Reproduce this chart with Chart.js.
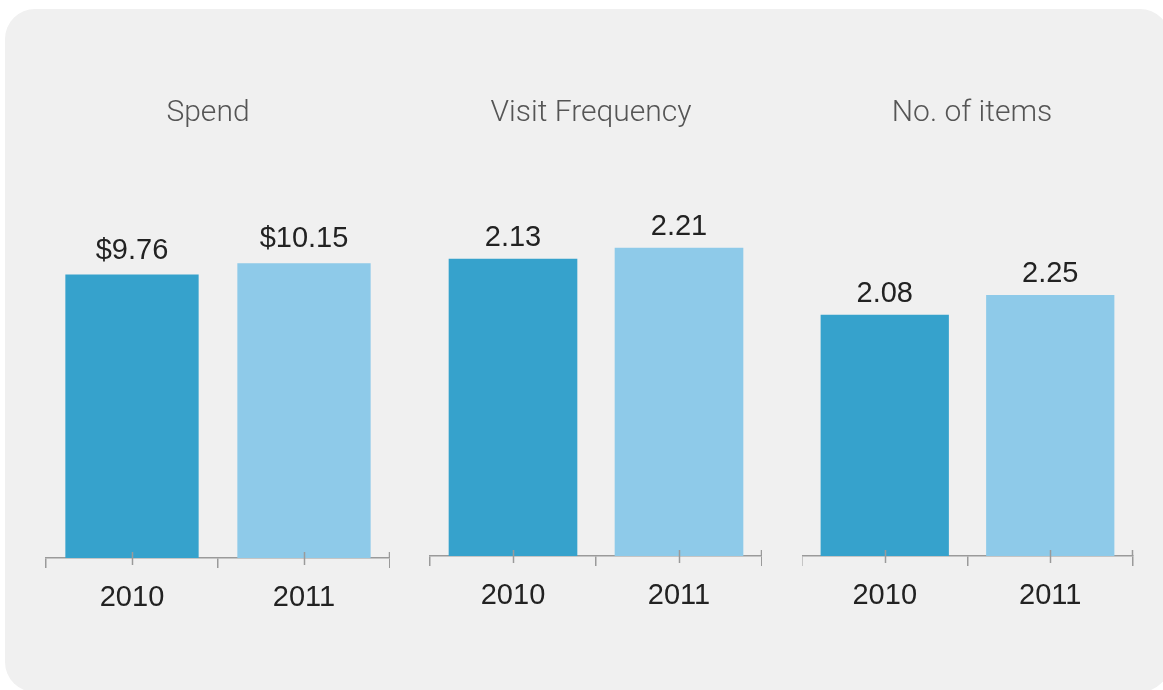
<!DOCTYPE html>
<html>
<head>
<meta charset="utf-8">
<script src="https://cdn.jsdelivr.net/npm/chart.js@4/dist/chart.umd.min.js"></script>
<style>
  html, body { margin: 0; padding: 0; background: #ffffff; }
  body { width: 1163px; height: 690px; position: relative; overflow: hidden; }
  .card { position: absolute; left: 5px; top: 9px; width: 1165px; height: 683px;
          background: #f0f0f0; border-radius: 30px; }
  canvas { position: absolute; top: 0; }
</style>
</head>
<body>
<div class="card"></div>
<canvas id="c0"></canvas>
<canvas id="c1"></canvas>
<canvas id="c2"></canvas>
<script>
// Categories and values for the three panels
const years = ['2010', '2011'];
const panelTitles = ['Spend', 'Visit Frequency', 'No. of items'];
const spend = [9.76, 10.15];
const visitFrequency = [2.13, 2.21];
const itemsPerVisit = [2.08, 2.25];
const valuePrefixes = ['$', '', ''];
const axisMax = [14.05, 2.91, 3.5];

const seriesList = [spend, visitFrequency, itemsPerVisit];
const barColors = ['#36a2cc', '#8ecae9'];
const axisColor = '#9a9a9a';

// Canvas placement and layout per panel
const panels = [
  { left: 26,  width: 364, axisBottom: 132, yPos: 'left',  yWidth: 20, labelGap: 16 },
  { left: 420, width: 342, axisBottom: 134, yPos: 'left',  yWidth: 10, labelGap: 13 },
  { left: 802, width: 340, axisBottom: 134, yPos: 'right', yWidth: 9,  labelGap: 13 }
];

// Value labels above each bar
const valueLabels = {
  id: 'valueLabels',
  afterDatasetsDraw(chart, args, opts) {
    const ctx = chart.ctx;
    const meta = chart.getDatasetMeta(0);
    const data = chart.data.datasets[0].data;
    ctx.save();
    ctx.font = '29px "Liberation Sans", Arial, sans-serif';
    ctx.fillStyle = '#222222';
    ctx.textAlign = 'center';
    ctx.textBaseline = 'alphabetic';
    meta.data.forEach((bar, i) => {
      ctx.fillText(opts.prefix + data[i].toFixed(2), bar.x, bar.y - opts.gap);
    });
    ctx.restore();
  }
};

// Small tick marks crossing the axis at each category centre
const centreTicks = {
  id: 'centreTicks',
  afterDraw(chart) {
    const ctx = chart.ctx;
    const xs = chart.scales.x;
    const y = xs.top;
    ctx.save();
    ctx.strokeStyle = axisColor;
    ctx.lineWidth = 1.5;
    ctx.beginPath();
    chart.data.labels.forEach((_, i) => {
      const x = Math.round(xs.getPixelForValue(i)) + 0.5;
      ctx.moveTo(x, y - 6);
      ctx.lineTo(x, y + 7);
    });
    const xr = Math.round(xs.right) - 0.5;
    ctx.moveTo(xr, y - 6);
    ctx.lineTo(xr, y);
    ctx.stroke();
    ctx.restore();
  }
};

panels.forEach((p, k) => {
  const canvas = document.getElementById('c' + k);
  canvas.style.left = p.left + 'px';
  canvas.style.width = p.width + 'px';
  canvas.style.height = '690px';
  canvas.width = p.width;
  canvas.height = 690;

  new Chart(canvas, {
    type: 'bar',
    data: {
      labels: years,
      datasets: [{
        data: seriesList[k],
        backgroundColor: barColors,
        borderWidth: 0,
        categoryPercentage: 1,
        barPercentage: 0.775
      }]
    },
    options: {
      responsive: false,
      animation: false,
      events: [],
      layout: { padding: 0 },
      plugins: {
        legend: { display: false },
        tooltip: { enabled: false },
        title: {
          display: true,
          text: panelTitles[k],
          color: '#555555',
          font: { family: 'Roboto', weight: 300, size: 30, lineHeight: 1.2 },
          padding: { top: 95, bottom: 19 }
        },
        valueLabels: { prefix: valuePrefixes[k], gap: p.labelGap }
      },
      scales: {
        x: {
          offset: true,
          grid: {
            display: true,
            offset: true,
            drawOnChartArea: false,
            drawTicks: true,
            tickLength: 10,
            color: axisColor,
            lineWidth: 1.5
          },
          border: { display: true, color: axisColor, width: 1.5 },
          ticks: {
            color: '#222222',
            padding: 13,
            font: { family: '"Liberation Sans", Arial, sans-serif', size: 29 }
          },
          afterFit(scale) { scale.height = p.axisBottom; }
        },
        y: {
          position: p.yPos,
          min: 0,
          max: axisMax[k],
          ticks: { display: false },
          grid: { display: false },
          border: { display: false },
          afterFit(scale) { scale.width = p.yWidth; }
        }
      }
    },
    plugins: [valueLabels, centreTicks]
  });
});
</script>
</body>
</html>
